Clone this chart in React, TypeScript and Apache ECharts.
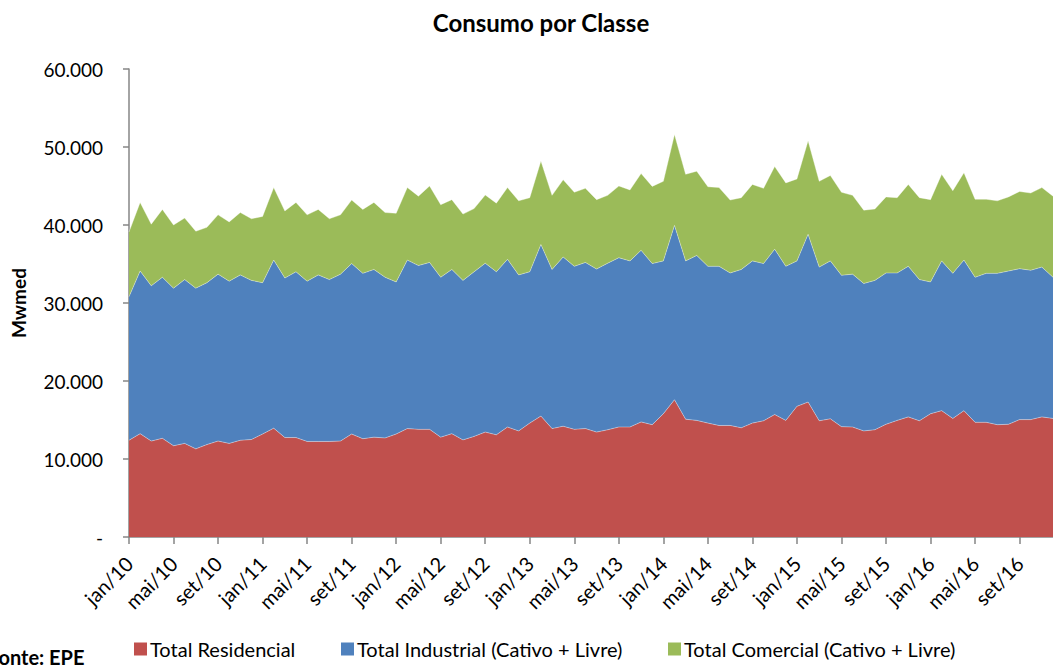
import React, { useEffect, useRef } from "react";
import * as echarts from "echarts";

const monthNames = ["jan", "fev", "mar", "abr", "mai", "jun", "jul", "ago", "set", "out", "nov", "dez"];
const years = ["10", "11", "12", "13", "14", "15", "16"];
const categories: string[] = [];
years.forEach((y) => monthNames.forEach((m) => categories.push(`${m}/${y}`)));

const yTicks = [0, 10000, 20000, 30000, 40000, 50000, 60000];

const residencial = [
  12400, 13250, 12300, 12650, 11700, 12000, 11300, 11850, 12300, 12000, 12400, 12500,
  13200, 13950, 12750, 12750, 12250, 12250, 12250, 12300, 13200, 12600, 12800, 12700,
  13200, 13900, 13800, 13800, 12800, 13250, 12450, 12900, 13450, 13100, 14100, 13600,
  14600, 15500, 13900, 14200, 13800, 13900, 13450, 13750, 14100, 14100, 14750, 14400,
  15800, 17600, 15100, 14950, 14600, 14300, 14300, 14000, 14600, 14900, 15700, 14950,
  16750, 17300, 14900, 15150, 14150, 14100, 13600, 13750, 14450, 14950, 15400, 14900,
  15800, 16200, 15200, 16200, 14700, 14700, 14400, 14450, 15050, 15050, 15400, 15200,
];

const industrial = [
  18400, 20850, 19900, 20650, 20200, 21000, 20600, 20750, 21400, 20800, 21200, 20400,
  19400, 21550, 20450, 21250, 20550, 21350, 20750, 21400, 21850, 21200, 21500, 20600,
  19500, 21600, 21000, 21400, 20500, 21050, 20450, 21100, 21650, 20900, 21500, 20000,
  19400, 22000, 20400, 21700, 20900, 21300, 20900, 21350, 21700, 21300, 22000, 20650,
  19600, 22350, 20300, 21150, 20100, 20400, 19550, 20300, 20800, 20150, 21200, 19750,
  18650, 21500, 19700, 20250, 19400, 19600, 18900, 19150, 19400, 18900, 19300, 18100,
  16900, 19200, 18600, 19300, 18600, 19100, 19400, 19650, 19350, 19150, 19200, 18100,
];

const comercial = [
  8300, 8800, 7900, 8700, 8100, 7900, 7300, 7100, 7600, 7600, 8000, 7900,
  8500, 9300, 8600, 8900, 8500, 8400, 7800, 7600, 8150, 8200, 8600, 8300,
  8800, 9300, 8900, 9800, 9300, 8950, 8500, 8100, 8750, 8800, 9200, 9500,
  9500, 10700, 9500, 9900, 9500, 9500, 8900, 8700, 9200, 9100, 9850, 9900,
  10200, 11650, 11100, 10800, 10200, 10100, 9350, 9200, 9800, 9650, 10600, 10700,
  10500, 12000, 11000, 10950, 10650, 10100, 9400, 9150, 9750, 9650, 10500, 10500,
  10550, 11100, 10600, 11200, 10000, 9500, 9300, 9500, 9900, 9900, 10200, 10400,
];

const seriesNames = ["Total Residencial", "Total Industrial (Cativo + Livre)", "Total Comercial (Cativo + Livre)"];
const seriesColors = ["#C0504D", "#4F81BD", "#9BBB59"];

const FONT = "Lato, 'Noto Sans', sans-serif";

function fmt(v: number): string {
  if (v === 0) return "-";
  return String(v).replace(/\B(?=(\d{3})+(?!\d))/g, ".");
}

export default function App() {
  const ref = useRef<HTMLDivElement>(null);
  useEffect(() => {
    if (!ref.current) return;
    const chart = echarts.init(ref.current, undefined, { renderer: "svg" });
    const dataSets = [residencial, industrial, comercial];
    const legendLefts = [134, 341, 668];
    chart.setOption({
      animation: false,
      backgroundColor: "#ffffff",
      textStyle: { fontFamily: FONT },
      title: {
        text: "Consumo por Classe",
        left: 536,
        textAlign: "center",
        top: 5,
        textStyle: { fontFamily: FONT, fontSize: 24, fontWeight: "bold", color: "#000" },
      },
      legend: seriesNames.map((n, i) => ({
        data: [n],
        left: legendLefts[i],
        top: 639,
        icon: "rect",
        itemWidth: 13,
        itemHeight: 13,
        itemGap: 5,
        padding: 0,
        textStyle: { fontFamily: FONT, fontSize: 20, color: "#000", padding: [0, 0, 0, -2] },
        selectedMode: false,
      })),
      grid: { left: 129, top: 69, width: 929.6, height: 468, containLabel: false },
      xAxis: {
        type: "category",
        data: categories,
        boundaryGap: false,
        axisLine: { lineStyle: { color: "#868686", width: 1.5 } },
        axisTick: { interval: 3, length: 7, lineStyle: { color: "#868686", width: 1.5 } },
        axisLabel: { interval: 3, rotate: 45, fontSize: 20, color: "#000", margin: 23, fontFamily: FONT },
        splitLine: { show: false },
      },
      yAxis: {
        type: "value",
        min: yTicks[0],
        max: yTicks[yTicks.length - 1],
        interval: 10000,
        axisLine: { show: true, lineStyle: { color: "#868686", width: 1.5 } },
        axisTick: { show: true, length: 6, lineStyle: { color: "#868686", width: 1.5 } },
        axisLabel: { formatter: (v: number) => fmt(v), fontSize: 19, color: "#000", margin: 26, fontFamily: FONT },
        splitLine: { show: false },
      },
      graphic: [
        {
          type: "text",
          x: 18,
          y: 303,
          rotation: Math.PI / 2,
          style: {
            text: "Mwmed",
            fontFamily: FONT,
            fontSize: 19,
            fontWeight: "bold",
            fill: "#000",
            textAlign: "center",
            textVerticalAlign: "middle",
          },
        },
        {
          type: "text",
          left: -12,
          top: 647,
          style: { text: "Fonte: EPE", fontFamily: FONT, fontSize: 20, fontWeight: "bold", fill: "#000" },
        },
      ],
      series: seriesNames.map((n, i) => ({
        name: n,
        type: "line",
        stack: "total",
        data: dataSets[i],
        symbol: "none",
        itemStyle: { color: seriesColors[i] },
        lineStyle: { width: 0.8, color: "rgba(255,255,255,0.45)" },
        areaStyle: { color: seriesColors[i], opacity: 1 },
      })),
    });
    return () => chart.dispose();
  }, []);
  return <div ref={ref} style={{ position: "absolute", left: 0, top: 0, width: 1053, height: 666 }} />;
}
